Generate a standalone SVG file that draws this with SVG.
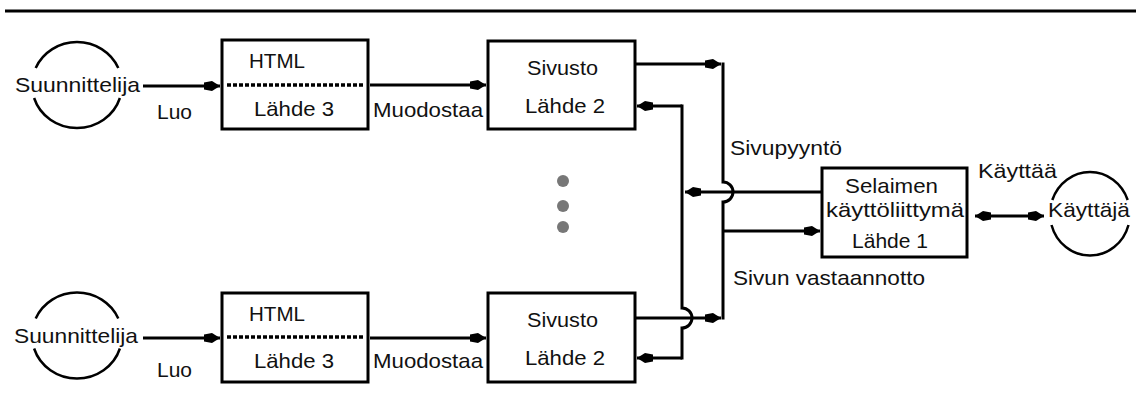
<svg xmlns="http://www.w3.org/2000/svg" width="1136" height="419" viewBox="0 0 1136 419">
  <style>
    text { font-family: "Liberation Sans", Arial, sans-serif; font-size: 21px; fill: #111; }
    .box { fill: #fff; stroke: #000; stroke-width: 3; }
    .sep { stroke: #000; stroke-width: 3.5; stroke-dasharray: 4 2; }
    .actor { fill: none; stroke: #000; stroke-width: 2.5; }
    .wire { fill: none; stroke: #000; stroke-width: 3; }
    .arrow { marker-end: url(#head); }
    .both { marker-start: url(#head); marker-end: url(#head); }
    .dot { fill: #777; }
  </style>
  <defs>
    <marker id="head" markerUnits="userSpaceOnUse" markerWidth="18" markerHeight="12" viewBox="0 -6 18 12" refX="16" refY="0" orient="auto-start-reverse">
      <path d="M0,-3.5 L8,-5 L16,0 L8,5 L0,3.5 Z" fill="#000"/>
    </marker>
  </defs>

  <!-- header rule -->
  <path d="M5 11 H1136" stroke="#000" stroke-width="3"/>

  <!-- designer 1 -->
  <g id="designer1">
    <path class="actor" d="M35.7 68 A45 43 0 0 1 118.3 68"/>
    <path class="actor" d="M34.1 98 A45 43 0 0 0 119.9 98"/>
    <text x="15" y="92" textLength="125" lengthAdjust="spacingAndGlyphs">Suunnittelija</text>
  </g>

  <!-- HTML source 1 -->
  <g id="html1">
    <rect class="box" x="222" y="40" width="146" height="89"/>
    <path class="sep" d="M227 85 H364"/>
    <text x="249" y="68" textLength="56" lengthAdjust="spacingAndGlyphs">HTML</text>
    <text x="254" y="116" textLength="80" lengthAdjust="spacingAndGlyphs">Lähde 3</text>
  </g>

  <!-- site 1 -->
  <g id="site1">
    <rect class="box" x="488" y="41" width="147" height="88"/>
    <text x="527" y="75" textLength="71" lengthAdjust="spacingAndGlyphs">Sivusto</text>
    <text x="525" y="113" textLength="80" lengthAdjust="spacingAndGlyphs">Lähde 2</text>
  </g>

  <!-- designer 2 -->
  <g id="designer2">
    <path class="actor" d="M35.7 318.5 A45 43 0 0 1 118.3 318.5"/>
    <path class="actor" d="M34.1 348.5 A45 43 0 0 0 119.9 348.5"/>
    <text x="14" y="343" textLength="124" lengthAdjust="spacingAndGlyphs">Suunnittelija</text>
  </g>

  <!-- HTML source 2 -->
  <g id="html2">
    <rect class="box" x="222" y="293" width="146" height="89"/>
    <path class="sep" d="M227 337 H364"/>
    <text x="249" y="321" textLength="56" lengthAdjust="spacingAndGlyphs">HTML</text>
    <text x="254" y="368" textLength="80" lengthAdjust="spacingAndGlyphs">Lähde 3</text>
  </g>

  <!-- site 2 -->
  <g id="site2">
    <rect class="box" x="488" y="293" width="147" height="89"/>
    <text x="527" y="327" textLength="71" lengthAdjust="spacingAndGlyphs">Sivusto</text>
    <text x="525" y="365" textLength="80" lengthAdjust="spacingAndGlyphs">Lähde 2</text>
  </g>

  <!-- ellipsis between the two site chains -->
  <g id="more">
    <circle class="dot" cx="563" cy="181" r="6"/>
    <circle class="dot" cx="563" cy="206" r="6"/>
    <circle class="dot" cx="563" cy="227" r="6"/>
  </g>

  <!-- browser UI -->
  <g id="browser">
    <rect class="box" x="822" y="168" width="145" height="89"/>
    <text x="845" y="193" textLength="93" lengthAdjust="spacingAndGlyphs">Selaimen</text>
    <text x="826" y="217" textLength="138" lengthAdjust="spacingAndGlyphs">käyttöliittymä</text>
    <text x="852" y="248" textLength="76" lengthAdjust="spacingAndGlyphs">Lähde 1</text>
  </g>

  <!-- user -->
  <g id="user">
    <path class="actor" d="M1052.3 200 A40 42 0 0 1 1127.7 200"/>
    <path class="actor" d="M1051.5 225 A40 42 0 0 0 1128.5 225"/>
    <text x="1048" y="217" textLength="82" lengthAdjust="spacingAndGlyphs">Käyttäjä</text>
  </g>

  <!-- connectors -->
  <g id="connectors">
    <path class="wire arrow" d="M143 86 H220"/>
    <path class="wire arrow" d="M370 85 H486"/>
    <path class="wire arrow" d="M143 338 H220"/>
    <path class="wire arrow" d="M370 338 H486"/>

    <!-- responses: sites to browser -->
    <path class="wire arrow" d="M635 64 H721"/>
    <path class="wire arrow" d="M635 318 H721"/>
    <path class="wire" d="M723 62.5 V182 A10 10 0 0 1 723 202 V319.5"/>
    <path class="wire arrow" d="M723 231 H820"/>

    <!-- requests: browser to sites -->
    <path class="wire arrow" d="M822 192 H685"/>
    <path class="wire" d="M682 104.5 V308 A10 10 0 0 1 682 328 V359.5"/>
    <path class="wire arrow" d="M682 106 H637"/>
    <path class="wire arrow" d="M682 358 H637"/>

    <!-- user interaction -->
    <path class="wire both" d="M975 216 H1044"/>
  </g>

  <!-- connector labels -->
  <g id="labels">
    <text x="157" y="119" textLength="35" lengthAdjust="spacingAndGlyphs">Luo</text>
    <text x="373" y="117" textLength="110" lengthAdjust="spacingAndGlyphs">Muodostaa</text>
    <text x="157" y="377" textLength="35" lengthAdjust="spacingAndGlyphs">Luo</text>
    <text x="373" y="368" textLength="110" lengthAdjust="spacingAndGlyphs">Muodostaa</text>
    <text x="730" y="155" textLength="112" lengthAdjust="spacingAndGlyphs">Sivupyyntö</text>
    <text x="733" y="285" textLength="192" lengthAdjust="spacingAndGlyphs">Sivun vastaannotto</text>
    <text x="978" y="178" textLength="79" lengthAdjust="spacingAndGlyphs">Käyttää</text>
  </g>
</svg>
